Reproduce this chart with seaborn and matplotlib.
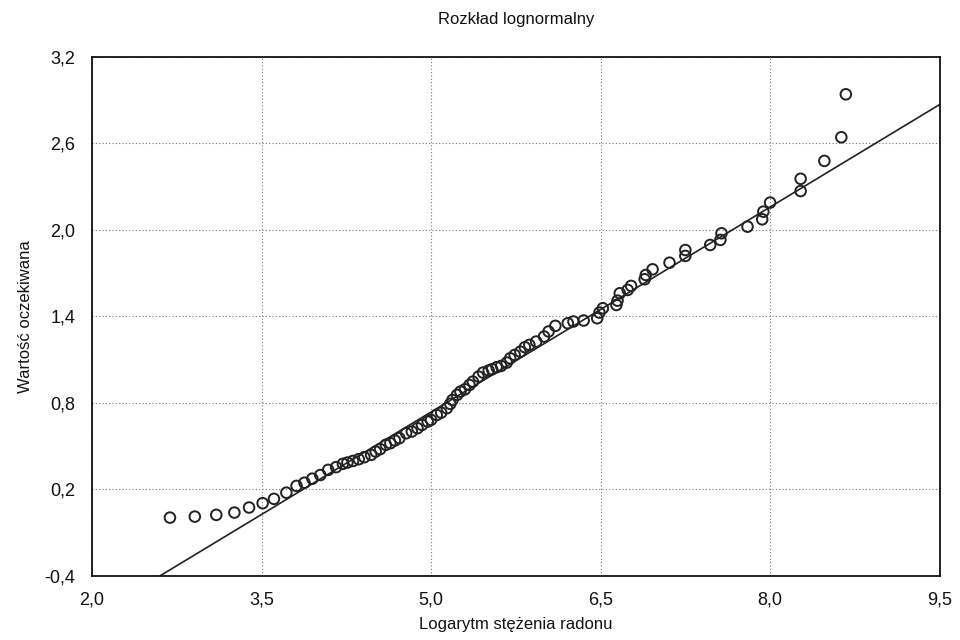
import matplotlib
matplotlib.use("Agg")
import matplotlib.pyplot as plt
import seaborn as sns
import pandas as pd
from matplotlib.ticker import FuncFormatter, FixedLocator

# Data
log_radon = [2.69, 2.91, 3.10, 3.26, 3.39, 3.51, 3.61, 3.72, 3.81, 3.88,
             3.95, 4.02, 4.09, 4.16, 4.22, 4.26, 4.31, 4.36, 4.41, 4.47,
             4.51, 4.55, 4.60, 4.64, 4.68, 4.72, 4.78, 4.83, 4.88, 4.92,
             4.97, 5.00, 5.05, 5.09, 5.14, 5.17, 5.19, 5.23, 5.26, 5.30,
             5.34, 5.37, 5.42, 5.46, 5.51, 5.54, 5.58, 5.62, 5.67, 5.70,
             5.74, 5.79, 5.83, 5.87, 5.93, 6.00, 6.04, 6.10, 6.21, 6.26,
             6.35, 6.47, 6.49, 6.52, 6.64, 6.65, 6.67, 6.74, 6.77, 6.89,
             6.90, 6.96, 7.11, 7.25, 7.25, 7.47, 7.56, 7.57, 7.80, 7.93,
             7.94, 8.00, 8.27, 8.27, 8.48, 8.63, 8.67]
expected = [0.005, 0.012, 0.024, 0.040, 0.075, 0.105, 0.135, 0.178, 0.225, 0.247,
            0.275, 0.300, 0.336, 0.355, 0.378, 0.387, 0.398, 0.410, 0.424, 0.440,
            0.463, 0.480, 0.510, 0.521, 0.540, 0.556, 0.590, 0.602, 0.625, 0.648,
            0.671, 0.683, 0.717, 0.733, 0.764, 0.794, 0.821, 0.856, 0.879, 0.895,
            0.925, 0.948, 0.983, 1.011, 1.025, 1.034, 1.048, 1.057, 1.080, 1.110,
            1.133, 1.156, 1.187, 1.203, 1.226, 1.261, 1.296, 1.335, 1.353, 1.365,
            1.372, 1.388, 1.427, 1.457, 1.480, 1.510, 1.561, 1.584, 1.612, 1.658,
            1.688, 1.727, 1.773, 1.820, 1.861, 1.896, 1.931, 1.977, 2.023, 2.074,
            2.127, 2.190, 2.270, 2.355, 2.479, 2.643, 2.941]

line_x = [2.6, 9.5]
line_y = [-0.4, 2.87]

x_ticks = [2.0, 3.5, 5.0, 6.5, 8.0, 9.5]
y_ticks = [-0.4, 0.2, 0.8, 1.4, 2.0, 2.6, 3.2]

title = "Rozkład lognormalny"
x_label = "Logarytm stężenia radonu"
y_label = "Wartość oczekiwana"

sns.set_theme(style="white")
plt.rcParams['font.family'] = ['Liberation Sans Narrow', 'Liberation Sans', 'DejaVu Sans']

pts = pd.DataFrame({"x": log_radon, "y": expected})
ln = pd.DataFrame({"x": line_x, "y": line_y})

fig = plt.figure(figsize=(9.6, 6.4), dpi=100)
ax = fig.add_axes([0.0958, 0.10, 0.883, 0.811])

sns.lineplot(data=ln, x="x", y="y", ax=ax, color="#222222", linewidth=1.2, zorder=2)
sns.scatterplot(data=pts, x="x", y="y", ax=ax, marker="o", s=58,
                facecolors="none", edgecolor="#222222", linewidth=1.4, zorder=3)

ax.set_xlim(2.0, 9.5)
ax.set_ylim(-0.4, 3.2)
ax.xaxis.set_major_locator(FixedLocator(x_ticks))
ax.yaxis.set_major_locator(FixedLocator(y_ticks))
fmt = FuncFormatter(lambda v, p: f"{v:.1f}".replace(".", ","))
ax.xaxis.set_major_formatter(fmt)
ax.yaxis.set_major_formatter(fmt)
ax.grid(True, linestyle=(0, (1, 2)), color="#777777", linewidth=0.8)
ax.tick_params(axis="both", length=0, labelsize=13, colors="#111111")
ax.tick_params(axis="x", pad=11)
ax.tick_params(axis="y", pad=12)

for s in ax.spines.values():
    s.set_color("#111111")
    s.set_linewidth(1.3)

ax.set_title(title, fontsize=12, pad=24, color="#111111")
ax.set_xlabel(x_label, fontsize=12, labelpad=6, color="#111111")
ax.set_ylabel(y_label, fontsize=12, labelpad=8, color="#111111")

fig.savefig("out.png", dpi=100)
